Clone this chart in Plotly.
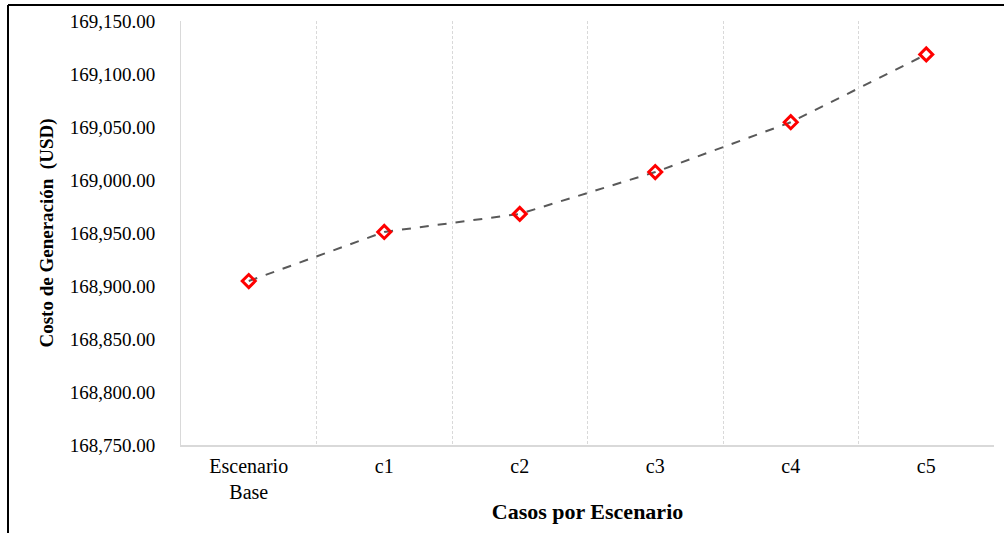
import plotly.graph_objects as go

categories = ["Escenario<br>Base", "c1", "c2", "c3", "c4", "c5"]
costs = [168904.7, 168951.0, 168968.0, 169007.5, 169054.5, 169118.5]
y_ticks = [168750, 168800, 168850, 168900, 168950, 169000, 169050, 169100, 169150]

fig = go.Figure()
fig.add_trace(go.Scatter(
    x=categories, y=costs, mode="lines+markers",
    line=dict(color="#595959", width=2, dash="dash"),
    marker=dict(symbol="diamond-open", size=10, color="#FF0000", line=dict(width=3, color="#FF0000")),
    showlegend=False,
))

serif = "Liberation Serif, Times New Roman, serif"
W, H = 1004, 533
L, R, T, B = 181, 10, 21, 88
pw, ph = W - L - R, H - T - B

fig.update_layout(
    width=W, height=H,
    margin=dict(l=L, r=R, t=T, b=B),
    paper_bgcolor="white", plot_bgcolor="white",
    font=dict(family=serif, size=19, color="black"),
    xaxis=dict(
        type="category", tickson="boundaries", range=[-0.5, 5.5],
        showgrid=True, gridcolor="#D9D9D9", griddash="3px,2px", gridwidth=1,
        showline=True, linecolor="#D9D9D9", linewidth=1.5,
        ticks="", tickfont=dict(size=20), ticklabelstandoff=2,
        title=dict(text="<b>Casos por Escenario</b>", font=dict(size=22), standoff=2),
        automargin=False,
    ),
    yaxis=dict(
        range=[168750, 169150], tickvals=y_ticks, tickformat=",.2f",
        showgrid=False, zeroline=False,
        showline=True, linecolor="#D9D9D9", linewidth=1,
        ticks="", ticklabelstandoff=21, tickfont=dict(size=19),
        title=dict(text="<b>Costo de Generación  (USD)</b>", font=dict(size=19), standoff=11),
        automargin=False,
    ),
)

# outer frame lines (left and top)
fig.add_shape(type="line", xref="paper", yref="paper",
              x0=(8 - L) / pw, x1=(8 - L) / pw, y0=1 + (T - 5) / ph, y1=-B / ph,
              line=dict(color="black", width=2))
fig.add_shape(type="line", xref="paper", yref="paper",
              x0=(8 - L) / pw, x1=(W - L) / pw, y0=1 + (T - 5) / ph, y1=1 + (T - 5) / ph,
              line=dict(color="black", width=2))

fig.write_html("out.html")
